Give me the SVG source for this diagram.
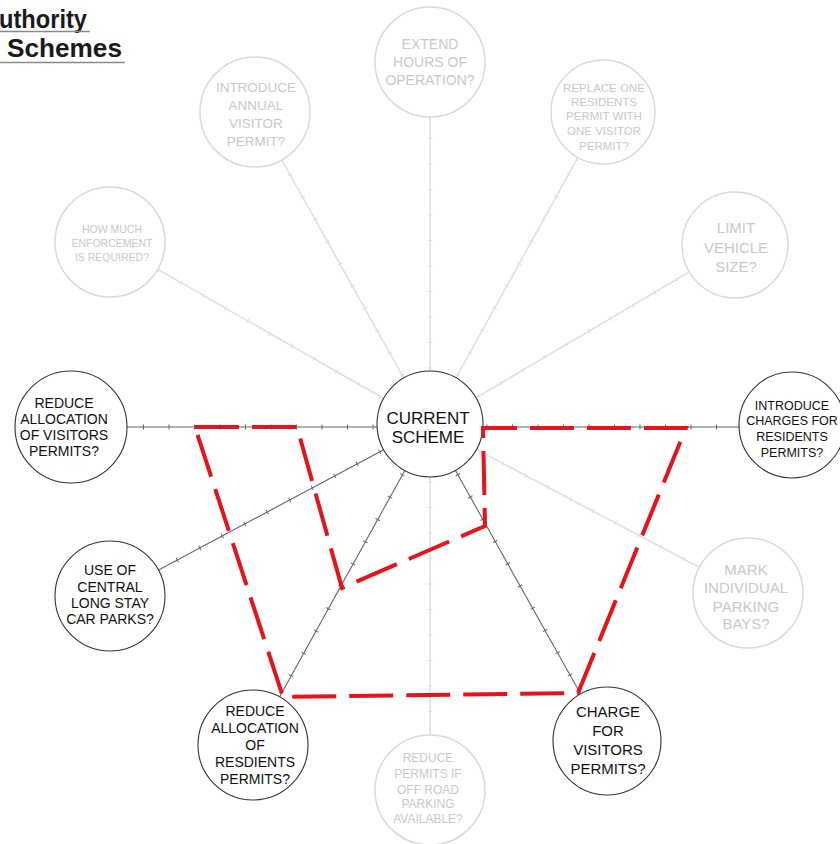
<svg xmlns="http://www.w3.org/2000/svg" width="840" height="844" viewBox="0 0 840 844">
<style>
  text { font-family: "Liberation Sans", Arial, sans-serif; text-anchor: middle; }
  .title { font-size: 25px; font-weight: bold; fill: #1a1a1a; text-anchor: start; }
  .act circle { fill: #fff; stroke: #333; stroke-width: 1.1; }
  .act text { fill: #111; }
  .fad circle { fill: #fff; stroke: #dadada; stroke-width: 1.5; }
  .fad text { fill: #c9c9c9; }
  .ln-a { stroke: #666; stroke-width: 1.1; fill: none; }
  .tk-a { stroke: #666; stroke-width: 5; stroke-dasharray: 1 24.5; stroke-dashoffset: -5.5; fill: none; }
  .ln-f { stroke: #dedede; stroke-width: 1.5; fill: none; }
  .tk-f { stroke: #dedede; stroke-width: 5; stroke-dasharray: 1 24.5; stroke-dashoffset: -5.5; fill: none; }
  .red { fill: none; stroke: #e3141b; stroke-width: 4; stroke-dasharray: 44 13; stroke-linejoin: miter; }
</style>

<g id="title">
  <text class="title" x="-1" y="28" textLength="88" lengthAdjust="spacingAndGlyphs">uthority</text>
  <line x1="0" y1="31.5" x2="90" y2="31.5" stroke="#8a8a8a" stroke-width="1.5"/>
  <text class="title" x="7" y="57" textLength="115" lengthAdjust="spacingAndGlyphs">Schemes</text>
  <line x1="0" y1="62.5" x2="125" y2="62.5" stroke="#8a8a8a" stroke-width="1.5"/>
</g>

<g id="connectors">
  <!-- faded -->
  <line class="ln-f" x1="430" y1="425" x2="430" y2="62"/>
  <line class="tk-f" x1="430" y1="425" x2="430" y2="62"/>
  <line class="ln-f" x1="430" y1="425" x2="255" y2="112"/>
  <line class="tk-f" x1="430" y1="425" x2="255" y2="112"/>
  <line class="ln-f" x1="430" y1="425" x2="603" y2="112"/>
  <line class="tk-f" x1="430" y1="425" x2="603" y2="112"/>
  <line class="ln-f" x1="430" y1="425" x2="110" y2="242"/>
  <line class="tk-f" x1="430" y1="425" x2="110" y2="242"/>
  <line class="ln-f" x1="430" y1="425" x2="735" y2="245"/>
  <line class="tk-f" x1="430" y1="425" x2="735" y2="245"/>
  <line class="ln-f" x1="430" y1="425" x2="748" y2="593"/>
  <line class="tk-f" x1="430" y1="425" x2="748" y2="593"/>
  <line class="ln-f" x1="430" y1="425" x2="430" y2="790"/>
  <line class="tk-f" x1="430" y1="425" x2="430" y2="790"/>
  <!-- active -->
  <line class="ln-a" x1="430" y1="427" x2="71" y2="427"/>
  <line class="tk-a" x1="430" y1="427" x2="71" y2="427"/>
  <line class="ln-a" x1="430" y1="427" x2="792" y2="427"/>
  <line class="tk-a" x1="430" y1="427" x2="792" y2="427"/>
  <line class="ln-a" x1="430" y1="425" x2="110" y2="596"/>
  <line class="tk-a" x1="430" y1="425" x2="110" y2="596"/>
  <line class="ln-a" x1="430" y1="425" x2="253" y2="745"/>
  <line class="tk-a" x1="430" y1="425" x2="253" y2="745"/>
  <line class="ln-a" x1="430" y1="425" x2="607" y2="741"/>
  <line class="tk-a" x1="430" y1="425" x2="607" y2="741"/>
</g>

<g id="node-extend" class="fad">
  <circle cx="430" cy="62" r="55"/>
  <text font-size="14"><tspan x="430" y="49">EXTEND</tspan><tspan x="430" y="67">HOURS OF</tspan><tspan x="430" y="85">OPERATION?</tspan></text>
</g>
<g id="node-annual" class="fad">
  <circle cx="255" cy="112" r="55"/>
  <text font-size="13.5"><tspan x="256" y="92">INTRODUCE</tspan><tspan x="256" y="110">ANNUAL</tspan><tspan x="256" y="128">VISITOR</tspan><tspan x="256" y="146">PERMIT?</tspan></text>
</g>
<g id="node-replace" class="fad">
  <circle cx="603" cy="112" r="52"/>
  <text font-size="11.5"><tspan x="604" y="92">REPLACE ONE</tspan><tspan x="604" y="106">RESIDENTS</tspan><tspan x="604" y="120">PERMIT WITH</tspan><tspan x="604" y="135">ONE VISITOR</tspan><tspan x="604" y="150">PERMIT?</tspan></text>
</g>
<g id="node-enforcement" class="fad">
  <circle cx="110" cy="242" r="55"/>
  <text font-size="10.5"><tspan x="112" y="233">HOW MUCH</tspan><tspan x="112" y="247">ENFORCEMENT</tspan><tspan x="112" y="261">IS REQUIRED?</tspan></text>
</g>
<g id="node-vehicle" class="fad">
  <circle cx="735" cy="245" r="53"/>
  <text font-size="15"><tspan x="736" y="233">LIMIT</tspan><tspan x="736" y="253">VEHICLE</tspan><tspan x="736" y="272">SIZE?</tspan></text>
</g>
<g id="node-bays" class="fad">
  <circle cx="748" cy="593" r="55"/>
  <text font-size="15"><tspan x="746" y="575">MARK</tspan><tspan x="746" y="593">INDIVIDUAL</tspan><tspan x="746" y="612">PARKING</tspan><tspan x="746" y="629">BAYS?</tspan></text>
</g>
<g id="node-offroad" class="fad">
  <circle cx="430" cy="790" r="55"/>
  <text font-size="12"><tspan x="428" y="762">REDUCE</tspan><tspan x="428" y="778">PERMITS IF</tspan><tspan x="428" y="794">OFF ROAD</tspan><tspan x="428" y="808">PARKING</tspan><tspan x="428" y="823">AVAILABLE?</tspan></text>
</g>

<g id="node-current" class="act">
  <circle cx="430" cy="424" r="53"/>
  <text font-size="17"><tspan x="428" y="424">CURRENT</tspan><tspan x="428" y="443">SCHEME</tspan></text>
</g>
<g id="node-reduce-visitors" class="act">
  <circle cx="71" cy="427" r="56"/>
  <text font-size="14"><tspan x="64" y="408">REDUCE</tspan><tspan x="64" y="424">ALLOCATION</tspan><tspan x="64" y="440">OF VISITORS</tspan><tspan x="64" y="456">PERMITS?</tspan></text>
</g>
<g id="node-charges-residents" class="act">
  <circle cx="792" cy="425" r="53"/>
  <text font-size="12.5"><tspan x="792" y="410">INTRODUCE</tspan><tspan x="792" y="425">CHARGES FOR</tspan><tspan x="792" y="441">RESIDENTS</tspan><tspan x="792" y="457">PERMITS?</tspan></text>
</g>
<g id="node-central" class="act">
  <circle cx="110" cy="596" r="55"/>
  <text font-size="14"><tspan x="110" y="575">USE OF</tspan><tspan x="110" y="592">CENTRAL</tspan><tspan x="110" y="608">LONG STAY</tspan><tspan x="110" y="624">CAR PARKS?</tspan></text>
</g>
<g id="node-reduce-residents" class="act">
  <circle cx="253" cy="745" r="55"/>
  <text font-size="14"><tspan x="255" y="716">REDUCE</tspan><tspan x="255" y="733">ALLOCATION</tspan><tspan x="255" y="750">OF</tspan><tspan x="255" y="767">RESDIENTS</tspan><tspan x="255" y="784">PERMITS?</tspan></text>
</g>
<g id="node-charge-visitors" class="act">
  <circle cx="607" cy="741" r="54"/>
  <text font-size="15"><tspan x="608" y="717">CHARGE</tspan><tspan x="608" y="736">FOR</tspan><tspan x="608" y="755">VISITORS</tspan><tspan x="608" y="774">PERMITS?</tspan></text>
</g>

<g id="highlight">
  <polygon class="red" points="195,427 297,427 342,588 485,526 483,428 686,428 578,693 283,697"/>
</g>
</svg>
